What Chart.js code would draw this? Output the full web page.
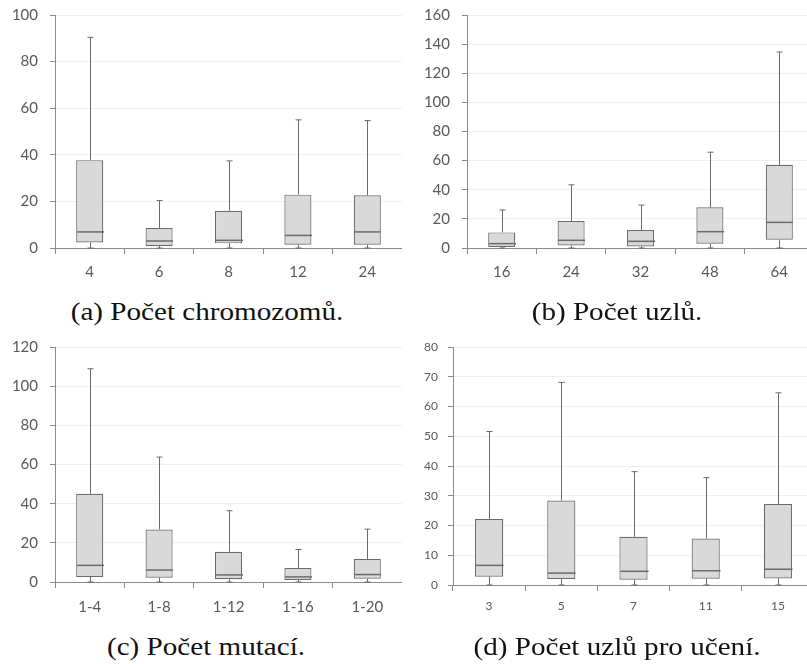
<!DOCTYPE html>
<html lang="cs">
<head>
<meta charset="UTF-8">
<title>Box plots</title>
<script src="https://cdn.jsdelivr.net/npm/chart.js"></script>
<style>
  body { margin: 0; background: #fff; width: 807px; height: 664px; overflow: hidden; position: relative; }
  .panel { position: absolute; overflow: hidden; }
  .caption {
    position: absolute; white-space: nowrap;
    font-family: "Liberation Serif", "Times New Roman", serif;
    font-size: 26px; line-height: 26px; color: #111;
    transform: translateX(-50%) scaleX(1.12);
  }
</style>
</head>
<body>
<div class="panel" style="left:0;top:0;width:402px;height:290px"><canvas id="chartA" width="402" height="282"></canvas></div>
<div class="panel" style="left:400px;top:0;width:407px;height:290px"><canvas id="chartB" width="414" height="282"></canvas></div>
<div class="panel" style="left:0;top:330px;width:402px;height:290px"><canvas id="chartC" width="402" height="286"></canvas></div>
<div class="panel" style="left:400px;top:330px;width:407px;height:290px"><canvas id="chartD" width="414" height="289"></canvas></div>

<div class="caption" style="left:207px;top:299px">(a) Počet chromozomů.</div>
<div class="caption" style="left:617px;top:299px">(b) Počet uzlů.</div>
<div class="caption" style="left:206px;top:634px">(c) Počet mutací.</div>
<div class="caption" style="left:617px;top:634px">(d) Počet uzlů pro učení.</div>

<script>
  // (a) Počet chromozomů
  const catsA   = ['4', '6', '8', '12', '24'];
  const minA    = [0, 0, 0, 0, 0];
  const q1A     = [2.4, 0.9, 2.0, 1.4, 1.4];
  const medA    = [6.9, 3.0, 3.3, 5.4, 6.9];
  const q3A     = [37.7, 8.6, 16.0, 22.9, 22.6];
  const maxA    = [90.4, 20.4, 37.4, 55.0, 54.7];

  // (b) Počet uzlů
  const catsB   = ['16', '24', '32', '48', '64'];
  const minB    = [0, 0, 0, 0, 0];
  const q1B     = [0.7, 1.8, 1.1, 3.0, 5.7];
  const medB    = [3.0, 5.3, 4.6, 11.2, 17.6];
  const q3B     = [10.7, 18.5, 12.3, 27.9, 57.1];
  const maxB    = [26.1, 43.4, 29.5, 65.8, 134.6];

  // (c) Počet mutací
  const catsC   = ['1-4', '1-8', '1-12', '1-16', '1-20'];
  const minC    = [0, 0, 0, 0, 0];
  const q1C     = [2.6, 2.2, 1.4, 1.0, 1.7];
  const medC    = [8.5, 6.1, 3.6, 2.6, 3.8];
  const q3C     = [45.1, 26.8, 15.4, 7.2, 11.8];
  const maxC    = [108.9, 63.8, 36.4, 16.6, 27.0];

  // (d) Počet uzlů pro učení
  const catsD   = ['3', '5', '7', '11', '15'];
  const minD    = [0, 0, 0, 0, 0];
  const q1D     = [2.8, 2.0, 1.8, 2.1, 2.2];
  const medD    = [6.6, 4.0, 4.6, 4.8, 5.3];
  const q3D     = [22.2, 28.4, 16.2, 15.6, 27.2];
  const maxD    = [51.6, 68.1, 38.1, 36.1, 64.6];

  const textColor = '#595959';
  const axisColor = '#8a8a8a';
  const lineColor = '#6b6b6b';

  // whiskers, caps and median line, drawn through the chart's scales
  const whiskerPlugin = {
    id: 'whiskers',
    afterDatasetsDraw(chart) {
      const ctx = chart.ctx;
      const x = chart.scales.x, y = chart.scales.y;
      const ds = chart.data.datasets[0];
      const meta = chart.getDatasetMeta(0);
      ctx.save();
      ctx.strokeStyle = lineColor;
      ctx.lineWidth = 1;
      ds.data.forEach((box, i) => {
        const cx = Math.round(x.getPixelForValue(i)) + 0.5;
        const half = meta.data[i].width / 2;
        const yMin = y.getPixelForValue(ds.mins[i]);
        const yMax = y.getPixelForValue(ds.maxs[i]);
        const yQ1 = y.getPixelForValue(box[0]);
        const yQ3 = y.getPixelForValue(box[1]);
        const yMed = y.getPixelForValue(ds.medians[i]);
        ctx.beginPath();
        ctx.moveTo(cx, yQ3); ctx.lineTo(cx, yMax);
        ctx.moveTo(cx - 3, yMax); ctx.lineTo(cx + 3, yMax);
        ctx.moveTo(cx, yQ1); ctx.lineTo(cx, yMin);
        ctx.moveTo(cx - 3, yMin); ctx.lineTo(cx + 3, yMin);
        ctx.stroke();
        ctx.beginPath();
        ctx.lineWidth = 1.5;
        ctx.moveTo(cx - half, yMed); ctx.lineTo(cx + half, yMed);
        ctx.stroke();
        ctx.lineWidth = 1;
      });
      ctx.restore();
    }
  };

  function makeBox(id, cats, mins, q1, med, q3, maxs, yMax, step, opt) {
    const boxes = q1.map((v, i) => [v, q3[i]]);
    new Chart(document.getElementById(id), {
      type: 'bar',
      data: {
        labels: cats,
        datasets: [{
          data: boxes,
          mins: mins,
          medians: med,
          maxs: maxs,
          backgroundColor: '#d9d9d9',
          borderColor: lineColor,
          borderWidth: 1.2,
          borderSkipped: false,
          barPercentage: 0.39,
          categoryPercentage: 1
        }]
      },
      options: {
        responsive: false,
        animation: false,
        layout: { padding: { top: opt.top, right: 0, left: 0, bottom: 0 } },
        plugins: { legend: { display: false }, tooltip: { enabled: false } },
        scales: {
          x: {
            afterFit: s => { s.height = opt.xh; s.paddingLeft = 0; s.paddingRight = 0; },
            grid: { display: true, drawOnChartArea: false, offset: true, tickLength: 6, tickColor: axisColor },
            border: { display: true, color: axisColor, width: 1 },
            ticks: { color: textColor, font: { family: 'Lato', size: opt.xfont }, padding: opt.xpad }
          },
          y: {
            min: 0, max: yMax,
            // fixed width, and no extra top/bottom padding from the labels
            afterFit: s => { s.width = opt.yw; s.paddingTop = 0; s.paddingBottom = 0; },
            grid: {
              color: c => c.tick.value === 0 ? 'rgba(0,0,0,0)' : '#efefef',
              tickLength: 5, tickColor: axisColor
            },
            border: { display: true, color: axisColor, width: 1 },
            ticks: { stepSize: step, color: textColor, font: { family: 'Lato', size: opt.yfont }, padding: opt.ypad }
          }
        }
      },
      plugins: [whiskerPlugin]
    });
  }

  makeBox('chartA', catsA, minA, q1A, medA, q3A, maxA, 100, 20, { top: 15, xh: 34, yw: 55, xfont: 15, yfont: 15, xpad: 9, ypad: 12 });
  makeBox('chartB', catsB, minB, q1B, medB, q3B, maxB, 160, 20, { top: 15, xh: 34, yw: 67, xfont: 15, yfont: 15, xpad: 9, ypad: 12 });
  makeBox('chartC', catsC, minC, q1C, medC, q3C, maxC, 120, 20, { top: 17, xh: 34, yw: 55, xfont: 15, yfont: 15, xpad: 10, ypad: 12 });
  makeBox('chartD', catsD, minD, q1D, medD, q3D, maxD, 80, 10, { top: 17, xh: 34, yw: 53, xfont: 12, yfont: 12, xpad: 8, ypad: 10 });
</script>
</body>
</html>
